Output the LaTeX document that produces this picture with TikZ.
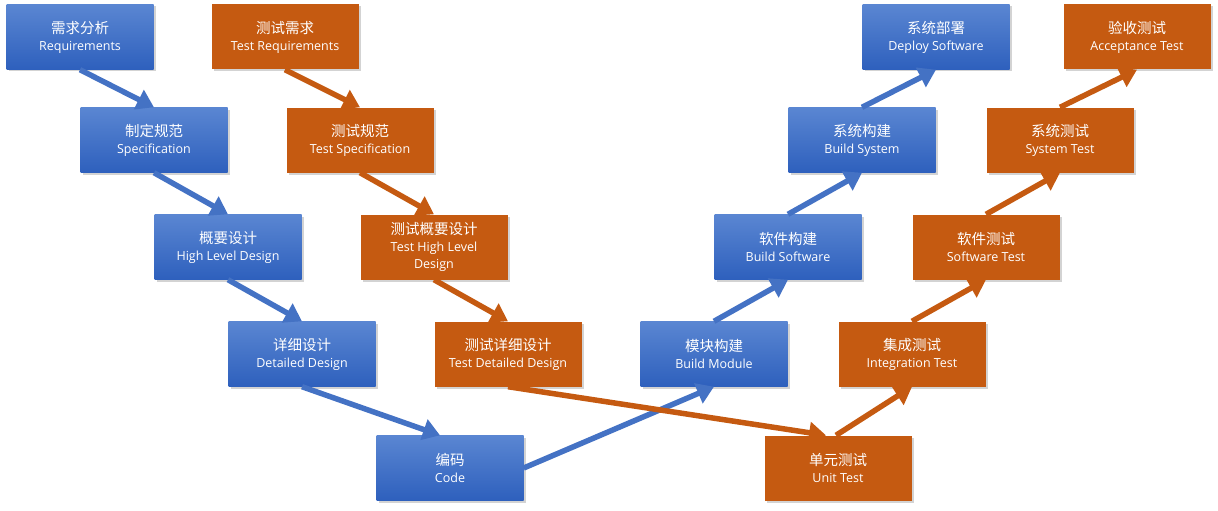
\documentclass[tikz,border=0pt]{standalone}
\usepackage{fontspec}
\setmainfont{Open Sans}
\newfontfamily\cjk{Noto Sans CJK SC}
\usetikzlibrary{arrows.meta,shadows}
\definecolor{bluetop}{HTML}{5A86D2}
\definecolor{bluebot}{HTML}{2E60BD}
\definecolor{bluearr}{HTML}{4472C4}
\definecolor{orangebox}{HTML}{C55A11}
\tikzset{
  box/.style={minimum width=147pt, minimum height=65pt, inner sep=0pt, align=center,
    text=white, font=\fontsize{12.5}{17}\selectfont,
    drop shadow={opacity=0.35, shadow xshift=2pt, shadow yshift=-2pt}},
  bbox/.style={box, top color=bluetop, bottom color=bluebot},
  obox/.style={box, fill=orangebox},
  barr/.style={draw=bluearr, line width=5.5pt, -{Triangle[length=17pt,width=21pt]}},
  oarr/.style={draw=orangebox, line width=5.5pt, -{Triangle[length=17pt,width=21pt]}},
}
\newcommand{\zh}[1]{{\cjk\fontsize{14.5}{17}\selectfont #1}}
\begin{document}
\begin{tikzpicture}[x=1pt,y=-1pt]
\useasboundingbox (0,0) rectangle (1218,511);
% blue left
\node[bbox] (req) at (80,37) {\zh{需求分析}\\Requirements};
\node[bbox] (spec) at (154,140) {\zh{制定规范}\\Specification};
\node[bbox] (hld) at (228,247) {\zh{概要设计}\\High Level Design};
\node[bbox] (dd) at (302,354) {\zh{详细设计}\\Detailed Design};
\node[bbox] (code) at (450,468) {\zh{编码}\\Code};
% blue right
\node[bbox] (bm) at (714,354) {\zh{模块构建}\\Build Module};
\node[bbox] (bsw) at (788,247) {\zh{软件构建}\\Build Software};
\node[bbox] (bsys) at (862,140) {\zh{系统构建}\\Build System};
\node[bbox] (dep) at (936,37) {\zh{系统部署}\\Deploy Software};
% orange left
\node[obox] (treq) at (285,37) {\zh{测试需求}\\Test Requirements};
\node[obox] (tspec) at (360,140) {\zh{测试规范}\\Test Specification};
\node[obox] (thld) at (434,247) {\zh{测试概要设计}\\Test High Level\\Design};
\node[obox] (tdd) at (508,354) {\zh{测试详细设计}\\Test Detailed Design};
% orange right
\node[obox] (ut) at (838,468) {\zh{单元测试}\\Unit Test};
\node[obox] (it) at (912,354) {\zh{集成测试}\\Integration Test};
\node[obox] (st) at (986,247) {\zh{软件测试}\\Software Test};
\node[obox] (syst) at (1060,140) {\zh{系统测试}\\System Test};
\node[obox] (at) at (1137,37) {\zh{验收测试}\\Acceptance Test};
% blue arrows
\draw[barr] (req.south) -- (spec.north);
\draw[barr] (spec.south) -- (hld.north);
\draw[barr] (hld.south) -- (dd.north);
\draw[barr] (dd.south) -- ([xshift=-10pt]code.north);
\draw[barr] (code.east) -- (bm.south);
\draw[barr] (bm.north) -- (bsw.south);
\draw[barr] (bsw.north) -- (bsys.south);
\draw[barr] (bsys.north) -- (dep.south);
% orange arrows
\draw[oarr] (treq.south) -- (tspec.north);
\draw[oarr] (tspec.south) -- (thld.north);
\draw[oarr] (thld.south) -- (tdd.north);
\draw[oarr] (tdd.south) -- ([xshift=-12pt]ut.north);
\draw[oarr] ([xshift=-2pt]ut.north) -- (it.south);
\draw[oarr] (it.north) -- (st.south);
\draw[oarr] (st.north) -- (syst.south);
\draw[oarr] (syst.north) -- (at.south);
\end{tikzpicture}
\end{document}
